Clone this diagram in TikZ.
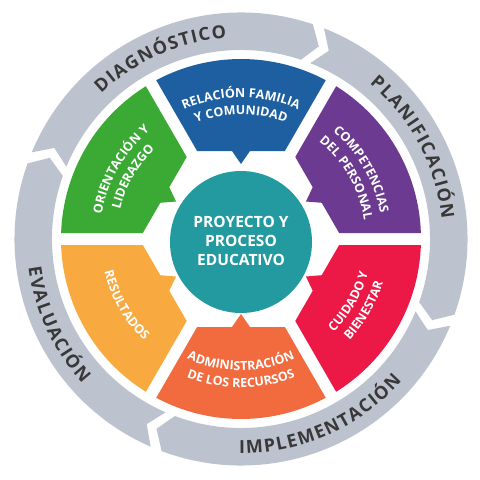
\documentclass[tikz,border=0pt]{standalone}
\usepackage{fontspec}
\setmainfont{Open Sans}
\newfontfamily\ringfont{Open Sans}[WordSpace=0.3]
\usetikzlibrary{decorations.text}
\definecolor{cgreen}{HTML}{3BAA35}
\definecolor{cblue}{HTML}{1D5FA0}
\definecolor{cpurple}{HTML}{6C3B91}
\definecolor{cred}{HTML}{EC1846}
\definecolor{corange}{HTML}{F26B3F}
\definecolor{cyellow}{HTML}{F8AA41}
\definecolor{cteal}{HTML}{229AA0}
\definecolor{cring}{HTML}{BCC3CE}
\definecolor{cringtext}{HTML}{383838}
\newcommand\seglab{\fontsize{12.5}{15}\selectfont\bfseries}
\newcommand\ringlab{\ringfont\fontsize{18}{21}\selectfont\bfseries}
\tikzset{
  segtext/.style={decorate, decoration={text along path, text={|\seglab|#1}, text color=white, text align=center}},
  ringtext/.style={decorate, decoration={text along path, text={|\ringlab|#1}, text color=cringtext, text align=center}},
  corestyle/.style={circle, fill=cteal, minimum size=142pt, inner sep=0pt},
  coretextstyle/.style={align=center, text=white, font=\fontsize{15.5}{19}\selectfont\bfseries}
}
\begin{document}
\begin{tikzpicture}[x=1pt,y=1pt]
\useasboundingbox (-241,-241) rectangle (239,239);
% outer ring arrows
\foreach \js/\je in {159/70, 70/-21, -21/-112, -112/-201}{
  \fill[cring] ({\js-1.5}:226.5pt) arc[start angle={\js-1.5}, end angle={\je+1.5}, radius=226.5pt]
    -- ({\je-2}:207.75pt) -- ({\je+1.5}:189pt)
    arc[start angle={\je+1.5}, end angle={\js-1.5}, radius=189pt]
    -- ({\js-5}:207.75pt) -- cycle;
}
% coloured segments
\foreach \ang/\col in {90/cblue, 30/cpurple, -30/cred, -90/corange, -150/cyellow, 150/cgreen}{
  \begin{scope}[rotate=\ang]
  \fill[\col] (-28.09:180pt) arc[start angle=-28.09, end angle=28.09, radius=180pt]
    -- (88,43.88) -- (88,9) -- (75,0) -- (88,-9) -- (88,-43.88) -- cycle;
  \end{scope}
}
% centre
\node[corestyle] (core) at (0,-3) {};
\node[coretextstyle] (coretext) at (0,-2) {PROYECTO Y\\PROCESO\\EDUCATIVO};
% segment labels (upper: clockwise paths, lower: counterclockwise)
\path[segtext={RELACIÓN FAMILIA}] (125:141.5pt) arc[start angle=125, end angle=55, radius=141.5pt];
\path[segtext={Y COMUNIDAD}] (125:124.5pt) arc[start angle=125, end angle=55, radius=124.5pt];
\path[segtext={COMPETENCIAS}] (65:141.5pt) arc[start angle=65, end angle=-5, radius=141.5pt];
\path[segtext={DEL PERSONAL}] (65:124.5pt) arc[start angle=65, end angle=-5, radius=124.5pt];
\path[segtext={ORIENTACIÓN Y}] (185:141.5pt) arc[start angle=185, end angle=115, radius=141.5pt];
\path[segtext={LIDERAZGO}] (185:124.5pt) arc[start angle=185, end angle=115, radius=124.5pt];
\path[segtext={CUIDADO Y}] (-65:131.5pt) arc[start angle=-65, end angle=5, radius=131.5pt];
\path[segtext={BIENESTAR}] (-65:148.5pt) arc[start angle=-65, end angle=5, radius=148.5pt];
\path[segtext={ADMINISTRACIÓN}] (-125:131.5pt) arc[start angle=-125, end angle=-55, radius=131.5pt];
\path[segtext={DE LOS RECURSOS}] (-125:148.5pt) arc[start angle=-125, end angle=-55, radius=148.5pt];
\path[segtext={RESULTADOS}] (175:140.5pt) arc[start angle=175, end angle=245, radius=140.5pt];
% ring labels
\path[ringtext={D I A G N Ó S T I C O}] (159:201.5pt) arc[start angle=159, end angle=69, radius=201.5pt];
\path[ringtext={P L A N I F I C A C I Ó N}] (73:201.5pt) arc[start angle=73, end angle=-17, radius=201.5pt];
\path[ringtext={I M P L E M E N T A C I Ó N}] (-111:214.5pt) arc[start angle=-111, end angle=-21, radius=214.5pt];
\path[ringtext={E V A L U A C I Ó N}] (160:214.5pt) arc[start angle=160, end angle=250, radius=214.5pt];
\end{tikzpicture}
\end{document}
